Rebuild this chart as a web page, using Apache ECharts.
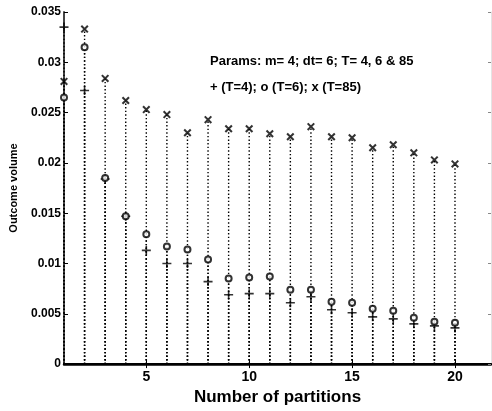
<!DOCTYPE html>
<html>
<head>
<meta charset="utf-8">
<script src="https://cdn.jsdelivr.net/npm/echarts@6/dist/echarts.min.js"></script>
<style>
  html, body { margin: 0; padding: 0; background: #fff; }
  #chart { width: 492px; height: 411px; }
</style>
</head>
<body>
<div id="chart"></div>
<script>
  // number of partitions
  const partitions = [1, 2, 3, 4, 5, 6, 7, 8, 9, 10, 11, 12, 13, 14, 15, 16, 17, 18, 19, 20]
  // outcome volume, T=4 (+)
  const volT4 = [0.0335, 0.0272, 0.0184, 0.0147, 0.0113, 0.0100, 0.0100, 0.0082, 0.0069, 0.0070,
    0.0070, 0.0061, 0.0067, 0.0054, 0.0051, 0.0047, 0.0045, 0.0040, 0.0038, 0.0036]
  // outcome volume, T=6 (o)
  const volT6 = [0.0265, 0.0315, 0.0185, 0.0147, 0.0129, 0.0117, 0.0114, 0.0104, 0.0085, 0.0086,
    0.0087, 0.0074, 0.0074, 0.0062, 0.0061, 0.0055, 0.0053, 0.0046, 0.0042, 0.0041]
  // outcome volume, T=85 (x)
  const volT85 = [0.0281, 0.0333, 0.0284, 0.0262, 0.0253, 0.0248, 0.0230, 0.0243, 0.0234, 0.0234,
    0.0229, 0.0226, 0.0236, 0.0226, 0.0225, 0.0215, 0.0218, 0.0210, 0.0203, 0.0199]
  const xTicks = [5, 10, 15, 20]

  const PLUS = 'path://M0,4.1H10V5.9H0Z M4.1,0H5.9V10H4.1Z'
  const CROSS = 'path://M0,1.8L1.8,0L10,8.2L8.2,10Z M8.2,0L10,1.8L1.8,10L0,8.2Z'
  const FONT = '"Liberation Sans", Arial, sans-serif'

  const pairs = vals => partitions.map((x, i) => [x, vals[i]])

  // dotted stem from 0 up to the point
  function stem(params, api) {
    const p0 = api.coord([api.value(0), 0])
    const p1 = api.coord([api.value(0), api.value(1)])
    return {
      type: 'line',
      shape: { x1: p0[0], y1: p0[1], x2: p1[0], y2: p1[1] },
      style: { stroke: '#000', lineWidth: 1.4, lineDash: [1.4, 2.2] }
    }
  }

  const chart = echarts.init(document.getElementById('chart'))
  chart.setOption({
    animation: false,
    backgroundColor: '#fff',
    grid: { left: 62, right: 1, top: 12, bottom: 46 },
    xAxis: [{
      type: 'value',
      min: 1,
      max: 21.75,
      name: 'Number of partitions',
      nameLocation: 'middle',
      nameGap: 19,
      nameTextStyle: { color: '#000', fontSize: 17, fontWeight: 'bold', fontFamily: FONT },
      axisLine: { lineStyle: { color: '#000', width: 2 } },
      axisTick: { inside: true, length: 4, customValues: xTicks, lineStyle: { color: '#000' } },
      axisLabel: { customValues: xTicks, margin: 6, color: '#000', fontSize: 14, fontWeight: 'bold', fontFamily: FONT },
      splitLine: { show: false }
    }, {
      type: 'value',
      position: 'top',
      min: 1,
      max: 21.75,
      axisLine: { lineStyle: { color: '#000', width: 2.5 } },
      axisTick: { inside: true, length: 4, customValues: xTicks, lineStyle: { color: '#000' } },
      axisLabel: { show: false },
      splitLine: { show: false }
    }],
    yAxis: [{
      type: 'value',
      min: 0,
      max: 0.035,
      interval: 0.005,
      name: 'Outcome volume',
      nameLocation: 'middle',
      nameGap: 45,
      nameTextStyle: { color: '#000', fontSize: 11, fontWeight: 'bold', fontFamily: FONT },
      axisLine: { lineStyle: { color: '#444', width: 2 } },
      axisTick: { inside: true, length: 4, lineStyle: { color: '#000' } },
      axisLabel: { margin: 3, color: '#000', fontSize: 12, fontWeight: 'bold', fontFamily: FONT },
      splitLine: { show: false }
    }, {
      type: 'value',
      position: 'right',
      min: 0,
      max: 0.035,
      interval: 0.005,
      axisLine: { show: true, lineStyle: { color: '#e4e4e4', width: 1 } },
      axisTick: { inside: true, length: 3, lineStyle: { color: '#888' } },
      axisLabel: { show: false },
      splitLine: { show: false }
    }],
    graphic: [{
      type: 'text',
      left: 210,
      top: 55,
      style: { text: 'Params: m= 4; dt= 6; T= 4, 6 & 85', fill: '#000', font: 'bold 13px ' + FONT }
    }, {
      type: 'text',
      left: 210,
      top: 81,
      style: { text: '+ (T=4); o (T=6); x (T=85)', fill: '#000', font: 'bold 13px ' + FONT }
    }],
    series: [
      { type: 'custom', renderItem: stem, data: pairs(volT4), z: 1 },
      { type: 'custom', renderItem: stem, data: pairs(volT6), z: 1 },
      { type: 'custom', renderItem: stem, data: pairs(volT85), z: 1 },
      {
        name: 'T=4', type: 'scatter', symbol: PLUS, symbolSize: 9,
        itemStyle: { color: '#000' }, data: pairs(volT4), z: 3
      },
      {
        name: 'T=6', type: 'scatter', symbol: 'emptyCircle', symbolSize: 6,
        itemStyle: { color: '#000', borderColor: '#000', borderWidth: 1.6 }, data: pairs(volT6), z: 3
      },
      {
        name: 'T=85', type: 'scatter', symbol: CROSS, symbolSize: 8,
        itemStyle: { color: '#000' }, data: pairs(volT85), z: 3
      }
    ]
  })
</script>
</body>
</html>
